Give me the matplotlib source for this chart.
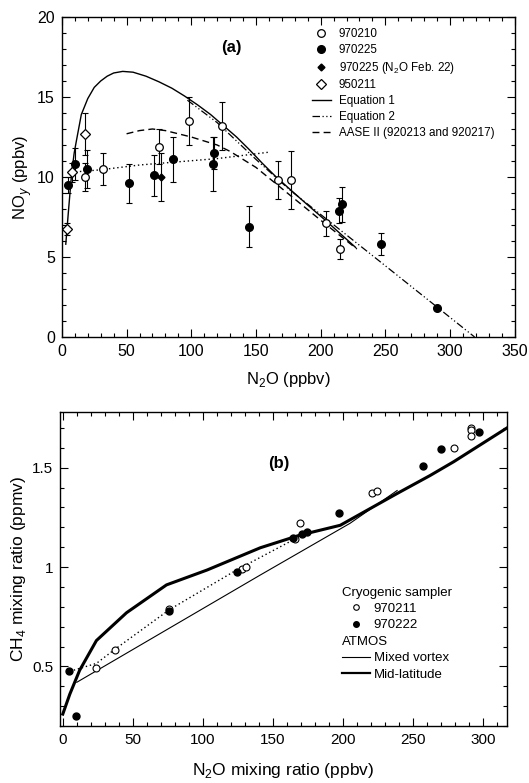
#!/usr/bin/env python3

import matplotlib
matplotlib.use('Agg')
import matplotlib.pyplot as plt
import matplotlib.transforms as mtransforms
from matplotlib.lines import Line2D
from matplotlib.ticker import MultipleLocator

plt.rcParams['font.family'] = ['Liberation Sans', 'DejaVu Sans']
plt.rcParams['mathtext.fontset'] = 'custom'
plt.rcParams['mathtext.rm'] = 'Liberation Sans'

# ---- panel (a): NOy vs N2O ----
x_970210 = [17.7, 31.8, 75, 98.6, 124, 167, 177, 204, 215]
y_970210 = [10.0, 10.5, 11.9, 13.5, 13.2, 9.8, 9.8, 7.1, 5.5]
e_970210 = [0.9, 1.0, 1.1, 1.5, 1.5, 1.2, 1.8, 0.8, 0.6]

x_970225 = [4.9, 10, 19.5, 51.7, 71, 85.6, 117, 117.6, 144.6, 214.5, 216.5, 247, 290]
y_970225 = [9.5, 10.8, 10.5, 9.6, 10.1, 11.1, 10.8, 11.5, 6.9, 7.9, 8.3, 5.8, 1.8]
e_970225 = [0.5, 1.0, 1.2, 1.2, 1.3, 1.4, 1.7, 1.0, 1.3, 0.8, 1.1, 0.7, 0.1]

x_feb22 = [76.6]
y_feb22 = [10.0]
e_feb22 = [1.5]

x_950211 = [3.6, 7.5, 17.7]
y_950211 = [6.75, 10.3, 12.7]
e_950211 = [0.4, 0.6, 1.3]

eq1_x = [3, 5, 7.5, 9.5, 11.3, 15, 20, 25, 30, 35, 40, 47, 55, 65, 75, 85, 95,
         105, 115, 125, 135, 145, 155, 165, 176, 190, 205, 227]
eq1_y = [5.8, 7.8, 10.2, 11.5, 12.3, 13.9, 14.9, 15.6, 16.0, 16.3, 16.5, 16.6,
         16.55, 16.3, 15.95, 15.55, 15.05, 14.5, 13.9, 13.2, 12.5, 11.7, 10.85,
         10.05, 9.25, 8.25, 7.2, 5.6]

eq2_x = [97, 120, 150, 176, 250, 319]
eq2_y = [14.8, 13.4, 11.1, 9.2, 4.45, 0.0]

aase_x = [50, 60, 70, 80, 90, 100, 110, 120, 130, 140, 150, 175, 200, 228]
aase_y = [12.7, 12.9, 13.0, 12.9, 12.7, 12.5, 12.25, 12.0, 11.6, 11.1, 10.6,
          8.95, 7.3, 5.5]

dot_a_x = [7.5, 30, 60, 90, 120, 145, 160]
dot_a_y = [10.3, 10.45, 10.75, 10.95, 11.15, 11.4, 11.55]

# ---- panel (b): CH4 vs N2O ----
x_970211 = [24, 37, 76, 128, 131, 166, 169, 221, 224, 279, 291, 291.5, 291]
y_970211 = [0.49, 0.58, 0.79, 0.99, 1.0, 1.14, 1.22, 1.37, 1.385, 1.60, 1.70,
            1.69, 1.66]

x_970222 = [4.4, 9.3, 76, 124, 164, 171, 174, 197, 257, 270, 297]
y_970222 = [0.475, 0.25, 0.78, 0.975, 1.145, 1.165, 1.175, 1.27, 1.51, 1.595,
            1.68]

vortex_x = [10, 141, 205, 238.6]
vortex_y = [0.42, 0.96, 1.22, 1.385]

midlat_x = [0, 5, 12, 24, 45.5, 74, 103, 141, 169, 198, 238.6, 262, 279, 317]
midlat_y = [0.26, 0.36, 0.48, 0.63, 0.77, 0.91, 0.985, 1.097, 1.16, 1.21,
            1.37, 1.46, 1.53, 1.70]

dot_b_x = [5, 24, 37, 76, 124, 168]
dot_b_y = [0.475, 0.515, 0.585, 0.785, 0.985, 1.15]


def style_axes(ax):
    ax.tick_params(which='both', direction='in', top=True, right=True,
                   width=0.8, labelsize=11.5, pad=5)
    ax.tick_params(which='major', length=6)
    ax.tick_params(which='minor', length=3)
    for sp in ax.spines.values():
        sp.set_linewidth(1.0)


fig = plt.figure(figsize=(5.29, 7.83), dpi=100)

# panel (a)
ax1 = fig.add_axes([0.117, 0.5696, 0.856, 0.4087])
eb = dict(fmt='none', ecolor='black', elinewidth=0.8, capsize=2, capthick=0.8)
ax1.errorbar(x_970210, y_970210, yerr=e_970210, **eb)
ax1.errorbar(x_970225, y_970225, yerr=e_970225, **eb)
ax1.errorbar(x_feb22, y_feb22, yerr=e_feb22, **eb)
ax1.errorbar(x_950211, y_950211, yerr=e_950211, **eb)

l1, = ax1.plot(eq1_x, eq1_y, '-', color='black', lw=1.0, label='Equation 1')
l2, = ax1.plot(eq2_x, eq2_y, color='black', lw=0.9, dashes=[6, 2, 1, 2, 1, 2],
               label='Equation 2')
l3, = ax1.plot(aase_x, aase_y, color='black', lw=1.0, dashes=[5, 3],
               label='AASE II (920213 and 920217)')
ax1.plot(dot_a_x, dot_a_y, color='black', lw=1.0, ls=(0, (1, 2)))

h1, = ax1.plot(x_970210, y_970210, 'o', mfc='white', mec='black', ms=5.5, mew=0.9,
               ls='none', label='970210')
h2, = ax1.plot(x_970225, y_970225, 'o', mfc='black', mec='black', ms=5.5,
               ls='none', label='970225')
h3, = ax1.plot(x_feb22, y_feb22, 'D', mfc='black', mec='black', ms=3.5,
               ls='none', label='970225 (N$_2$O Feb. 22)')
h4, = ax1.plot(x_950211, y_950211, 'D', mfc='white', mec='black', ms=5, mew=0.9,
               ls='none', label='950211')

ax1.set_xlim(0, 350)
ax1.set_ylim(0, 20)
ax1.xaxis.set_major_locator(MultipleLocator(50))
ax1.xaxis.set_minor_locator(MultipleLocator(10))
ax1.yaxis.set_major_locator(MultipleLocator(5))
ax1.yaxis.set_minor_locator(MultipleLocator(1))
style_axes(ax1)
ax1.set_xlabel('N$_2$O (ppbv)', fontsize=12, labelpad=8)
ax1.set_ylabel('NO$_y$ (ppbv)', fontsize=12, labelpad=2)
ax1.text(0.375, 0.905, '(a)', transform=ax1.transAxes, fontsize=12,
         fontweight='bold', ha='center', va='center')

handles = [h1, h2, h3, h4, l1, l2, l3]
leg1 = ax1.legend(handles=handles, labels=[h.get_label() for h in handles],
                  loc='upper left', bbox_to_anchor=(0.552, 0.965), frameon=False,
                  fontsize=8.4, handlelength=1.6, handletextpad=0.7,
                  labelspacing=0.32, borderpad=0, borderaxespad=0)

# panel (b)
ax2 = fig.add_axes([0.1134, 0.0728, 0.845, 0.401])
ax2.plot(dot_b_x, dot_b_y, color='black', lw=1.0, ls=(0, (1, 2)))
hv, = ax2.plot(vortex_x, vortex_y, '-', color='black', lw=0.8,
               label='Mixed vortex')
hm, = ax2.plot(midlat_x, midlat_y, '-', color='black', lw=2.2,
               label='Mid-latitude')
ho, = ax2.plot(x_970211, y_970211, 'o', mfc='white', mec='black', ms=5, mew=0.8,
               ls='none', label='970211')
hf, = ax2.plot(x_970222, y_970222, 'o', mfc='black', mec='black', ms=5,
               ls='none', label='970222')

ax2.set_xlim(-2, 317)
ax2.set_ylim(0.2, 1.78)
ax2.xaxis.set_major_locator(MultipleLocator(50))
ax2.xaxis.set_minor_locator(MultipleLocator(10))
ax2.yaxis.set_major_locator(MultipleLocator(0.5))
ax2.yaxis.set_minor_locator(MultipleLocator(0.1))
ax2.set_yticks([0.5, 1.0, 1.5])
ax2.set_yticklabels(['0.5', '1', '1.5'])
style_axes(ax2)
ax2.tick_params(labelsize=11)
ax2.set_xlabel('N$_2$O mixing ratio (ppbv)', fontsize=12.5, labelpad=10)
ax2.set_ylabel('CH$_4$ mixing ratio (ppmv)', fontsize=12.5, labelpad=3)
ax2.text(0.49, 0.835, '(b)', transform=ax2.transAxes, fontsize=12,
         fontweight='bold', ha='center', va='center')

blank1 = Line2D([], [], ls='none', label='Cryogenic sampler')
blank2 = Line2D([], [], ls='none', label='ATMOS')
ho_leg = Line2D([], [], marker='o', mfc='white', mec='black', ms=4, mew=0.8,
                ls='none')
hf_leg = Line2D([], [], marker='o', mfc='black', mec='black', ms=4, ls='none')
hv_leg = Line2D([], [], color='black', lw=0.8)
hm_leg = Line2D([], [], color='black', lw=1.6)
handles2 = [blank1, ho_leg, hf_leg, blank2, hv_leg, hm_leg]
labels2 = ['Cryogenic sampler', '970211', '970222', 'ATMOS', 'Mixed vortex',
           'Mid-latitude']
hl, hp, fs = 2.1, 0.3, 9.5
leg2 = ax2.legend(handles=handles2, labels=labels2, loc='upper left',
                  bbox_to_anchor=(0.631, 0.445), frameon=False, fontsize=fs,
                  handlelength=hl, handletextpad=hp, labelspacing=0.32,
                  borderpad=0, borderaxespad=0)
shift = (hl + hp) * fs / 72.0
texts = leg2.get_texts()
for i in (0, 3):
    t = texts[i]
    t.set_transform(t.get_transform() +
                    mtransforms.ScaledTranslation(-shift, 0, fig.dpi_scale_trans))

fig.savefig('out.png', dpi=100)
